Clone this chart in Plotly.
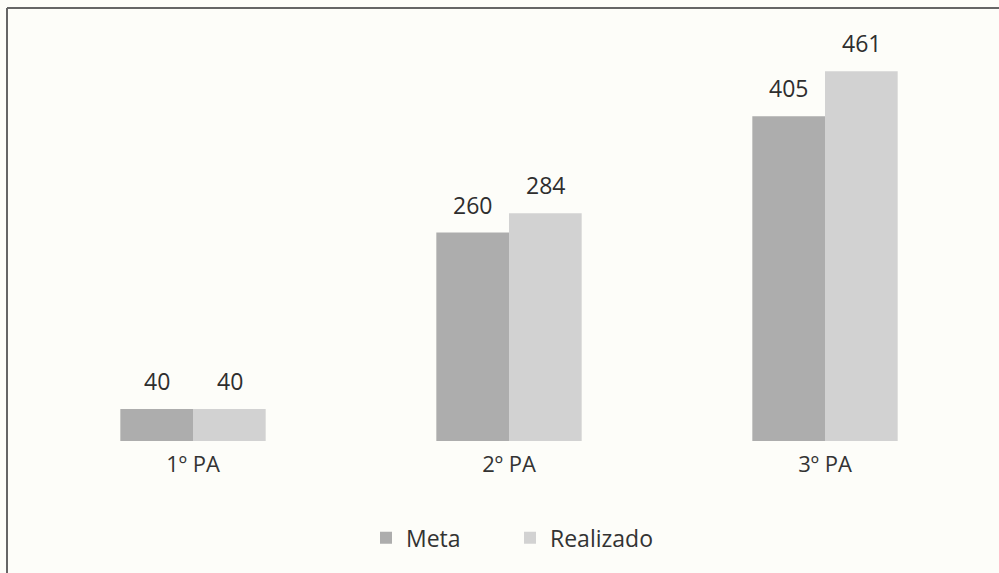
import plotly.graph_objects as go

categories = ["1º PA", "2º PA", "3º PA"]
meta = [40, 260, 405]
realizado = [40, 284, 461]

W, H = 999, 573
L, R, T, B = 35, 16, 20, 132
pw, ph = W - L - R, H - T - B

def px_x(x):
    return (x - L) / pw

def px_y(y):
    return (H - B - y) / ph

font_family = "Open Sans, Liberation Sans, sans-serif"
text_color = "#2e2e2e"

fig = go.Figure()
fig.add_trace(go.Bar(
    x=categories, y=meta, name="Meta",
    marker=dict(color="#adadad", line=dict(width=0)),
))
fig.add_trace(go.Bar(
    x=categories, y=realizado, name="Realizado",
    marker=dict(color="#d2d2d2", line=dict(width=0)),
))

bar_px = 73
annotations = []
for series, shift in ((meta, -bar_px / 2), (realizado, bar_px / 2)):
    for cat, v in zip(categories, series):
        annotations.append(dict(
            x=cat, y=v, xref="x", yref="y", text=str(v), showarrow=False,
            xshift=shift, yshift=28, yanchor="middle",
            font=dict(size=23, color=text_color, family=font_family),
        ))

fig.update_layout(
    width=W, height=H,
    margin=dict(l=L, r=R, t=T, b=B),
    paper_bgcolor="#fdfdf9",
    plot_bgcolor="#fdfdf9",
    barmode="group",
    bargap=0.54,
    bargroupgap=0,
    font=dict(family=font_family, color="#333333"),
    showlegend=True,
    legend=dict(
        orientation="h", x=px_x(366), xanchor="left", y=-0.23, yanchor="middle",
        font=dict(size=23, color="#333333", family=font_family),
        bgcolor="rgba(0,0,0,0)",
        entrywidth=99, entrywidthmode="pixels",
    ),
    xaxis=dict(
        showgrid=False, zeroline=False, showline=False, ticks="",
        tickfont=dict(size=22, color="#333333", family=font_family),
        range=[-0.5, 2.5], ticklabelstandoff=8,
    ),
    yaxis=dict(
        range=[0, 525], showgrid=False, zeroline=False, showline=False,
        showticklabels=False, ticks="",
    ),
    annotations=annotations,
    shapes=[
        dict(type="line", xref="paper", yref="paper",
             x0=px_x(7), x1=px_x(999), y0=px_y(8), y1=px_y(8),
             line=dict(color="#666666", width=2)),
        dict(type="line", xref="paper", yref="paper",
             x0=px_x(7), x1=px_x(7), y0=px_y(8), y1=px_y(573),
             line=dict(color="#666666", width=2)),
    ],
)

fig.write_html(
    "out.html",
    config={"displayModeBar": False},
    post_script="document.body.style.margin='0';document.body.style.overflow='hidden';",
)
